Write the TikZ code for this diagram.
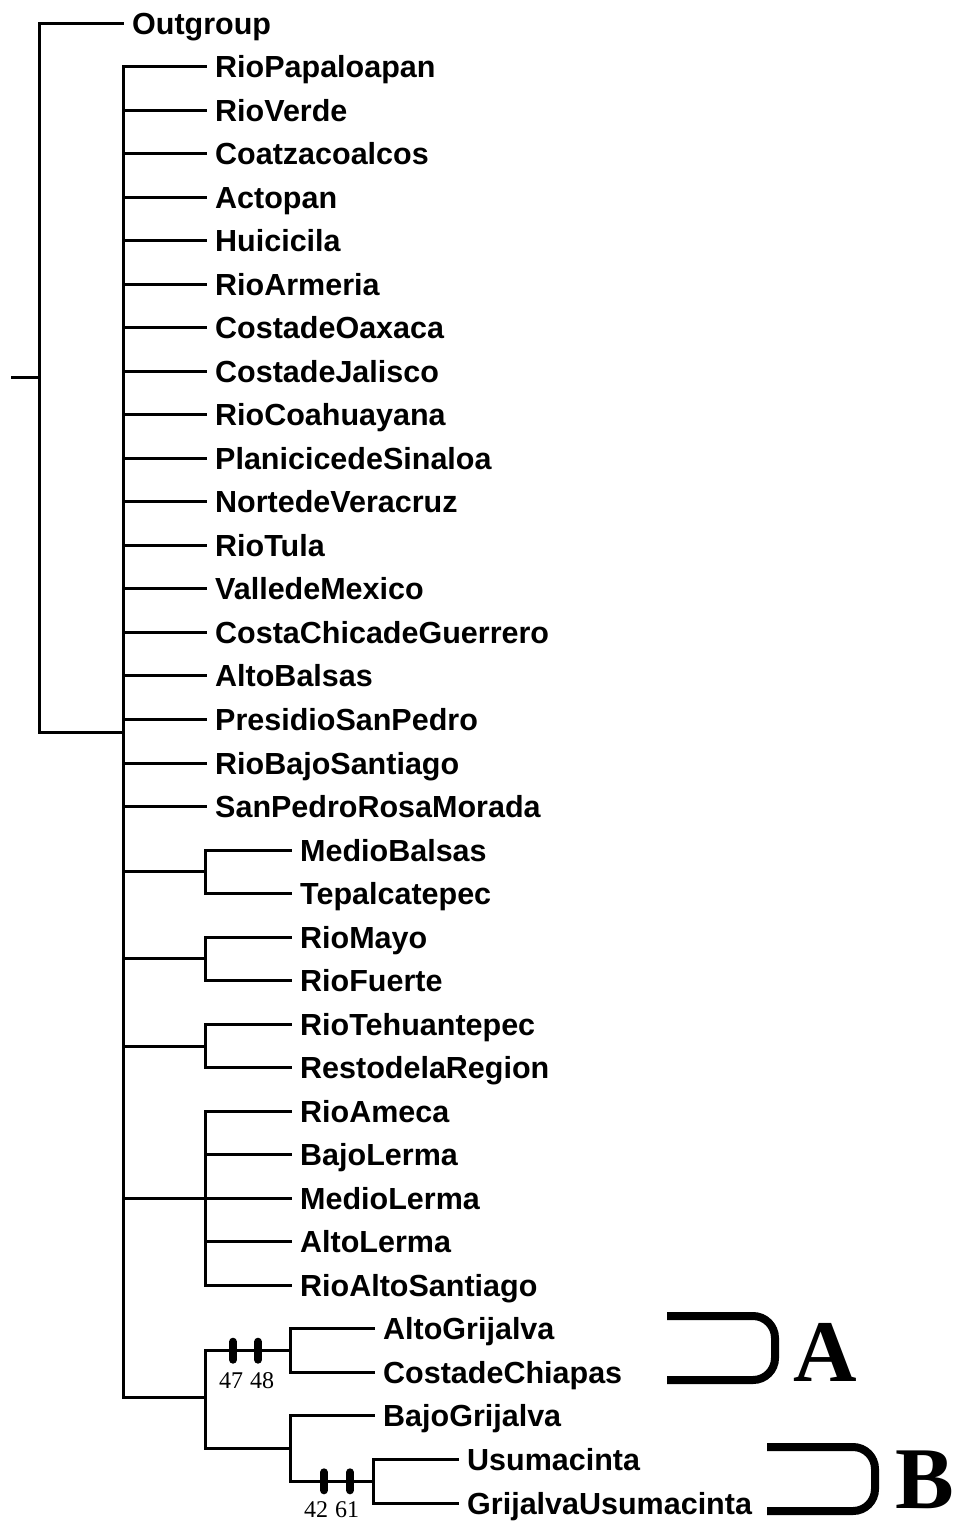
\documentclass[tikz,border=0pt]{standalone}
\usepackage{fontspec}
\setmainfont{Liberation Sans}
\newfontfamily\serifnum{Liberation Serif}
\begin{document}
\begin{tikzpicture}[x=1pt,y=-1pt,
  br/.style={line width=3pt,line cap=rect},
  lab/.style={anchor=base west,inner sep=0pt,font=\bfseries\fontsize{30.5}{30.5}\selectfont},
  tick/.style={line width=8pt,line cap=round},
  ticklab/.style={inner sep=0pt,font=\serifnum\fontsize{24}{24}\selectfont},
  brack/.style={line width=8pt,rounded corners=22pt},
  clade/.style={inner sep=0pt,anchor=base west,font=\serifnum\bfseries\fontsize{88}{88}\selectfont}]
\useasboundingbox (0,0) rectangle (958,1524);
% leaf end points and labels: name / row / x of leaf end
\foreach \nm/\r/\lx in {Outgroup/0/122,
  RioPapaloapan/1/205, RioVerde/2/205, Coatzacoalcos/3/205, Actopan/4/205,
  Huicicila/5/205, RioArmeria/6/205, CostadeOaxaca/7/205, CostadeJalisco/8/205,
  RioCoahuayana/9/205, PlanicicedeSinaloa/10/205, NortedeVeracruz/11/205,
  RioTula/12/205, ValledeMexico/13/205, CostaChicadeGuerrero/14/205,
  AltoBalsas/15/205, PresidioSanPedro/16/205, RioBajoSantiago/17/205,
  SanPedroRosaMorada/18/205,
  MedioBalsas/19/290, Tepalcatepec/20/290, RioMayo/21/290, RioFuerte/22/290,
  RioTehuantepec/23/290, RestodelaRegion/24/290, RioAmeca/25/290,
  BajoLerma/26/290, MedioLerma/27/290, AltoLerma/28/290, RioAltoSantiago/29/290,
  AltoGrijalva/30/373, CostadeChiapas/31/373, BajoGrijalva/32/373,
  Usumacinta/33/457, GrijalvaUsumacinta/34/457}{
  \coordinate (e\nm) at (\lx,{23+43.53*\r});
  \node[lab] (\nm) at ({\lx+10},{23+43.53*\r+11}) {\nm};
}
% joints
\coordinate (stub) at (12,377);
\coordinate (root) at (39,377);
\coordinate (mainJ) at (123,732);
\coordinate (mainB) at (123,1397);
\coordinate (jMB) at (205,871.8);
\coordinate (jRM) at (205,958.9);
\coordinate (jRT) at (205,1046);
\coordinate (jRA) at (205,1198.3);
\coordinate (jG) at (205,1397);
\coordinate (jAG) at (290,1350.7);
\coordinate (jLow) at (290,1448.6);
\coordinate (jUs) at (373,1481.3);
% root
\draw[br] (stub) -- (root);
\draw[br] (eOutgroup -| root) -- (root |- mainJ);
\draw[br] (eOutgroup -| root) -- (eOutgroup);
\draw[br] (root |- mainJ) -- (mainJ);
% main polytomy
\draw[br] (mainJ |- eRioPapaloapan) -- (mainB);
\foreach \nm in {RioPapaloapan, RioVerde, Coatzacoalcos, Actopan, Huicicila,
  RioArmeria, CostadeOaxaca, CostadeJalisco, RioCoahuayana, PlanicicedeSinaloa,
  NortedeVeracruz, RioTula, ValledeMexico, CostaChicadeGuerrero, AltoBalsas,
  PresidioSanPedro, RioBajoSantiago, SanPedroRosaMorada}{
  \draw[br] (mainJ |- e\nm) -- (e\nm);
}
% pairs and group
\foreach \j/\a/\b in {jMB/MedioBalsas/Tepalcatepec, jRM/RioMayo/RioFuerte,
  jRT/RioTehuantepec/RestodelaRegion, jRA/RioAmeca/RioAltoSantiago}{
  \draw[br] (mainJ |- \j) -- (\j);
  \draw[br] (\j |- e\a) -- (\j |- e\b);
}
\foreach \nm in {MedioBalsas, Tepalcatepec, RioMayo, RioFuerte, RioTehuantepec,
  RestodelaRegion, RioAmeca, BajoLerma, MedioLerma, AltoLerma, RioAltoSantiago}{
  \draw[br] (jMB |- e\nm) -- (e\nm);
}
% Grijalva clade
\draw[br] (mainB) -- (jG);
\draw[br] (jG |- jAG) -- (jG |- jLow);
\draw[br] (jG |- jAG) -- (jAG);
\draw[br] (jG |- jLow) -- (jLow);
\draw[br] (jAG |- eAltoGrijalva) -- (jAG |- eCostadeChiapas);
\draw[br] (jAG |- eAltoGrijalva) -- (eAltoGrijalva);
\draw[br] (jAG |- eCostadeChiapas) -- (eCostadeChiapas);
\draw[br] (jLow |- eBajoGrijalva) -- (jLow |- jUs);
\draw[br] (jLow |- eBajoGrijalva) -- (eBajoGrijalva);
\draw[br] (jLow |- jUs) -- (jUs);
\draw[br] (jUs |- eUsumacinta) -- (jUs |- eGrijalvaUsumacinta);
\draw[br] (jUs |- eUsumacinta) -- (eUsumacinta);
\draw[br] (jUs |- eGrijalvaUsumacinta) -- (eGrijalvaUsumacinta);
% character ticks
\coordinate (t47) at (233,1350.7);
\coordinate (t48) at (258,1350.7);
\coordinate (t42) at (324,1481.3);
\coordinate (t61) at (350,1481.3);
\foreach \t in {t47,t48,t42,t61}{
  \draw[tick] ([yshift=9pt]\t) -- ([yshift=-9pt]\t);
}
\node[ticklab] (n47) at (231,1381) {47};
\node[ticklab] (n48) at (262,1381) {48};
\node[ticklab] (n42) at (316,1510) {42};
\node[ticklab] (n61) at (347,1510) {61};
% clade brackets
\coordinate (aT) at (667,1316);
\coordinate (aB) at (667,1380);
\coordinate (bT) at (767,1447);
\coordinate (bB) at (767,1511);
\draw[brack] (aT) -- (775,1316) -- (775,1380) -- (aB);
\draw[brack] (bT) -- (875,1447) -- (875,1511) -- (bB);
\node[clade] (A) at (793,1381) {A};
\node[clade] (B) at (895,1508) {B};
\end{tikzpicture}
\end{document}
